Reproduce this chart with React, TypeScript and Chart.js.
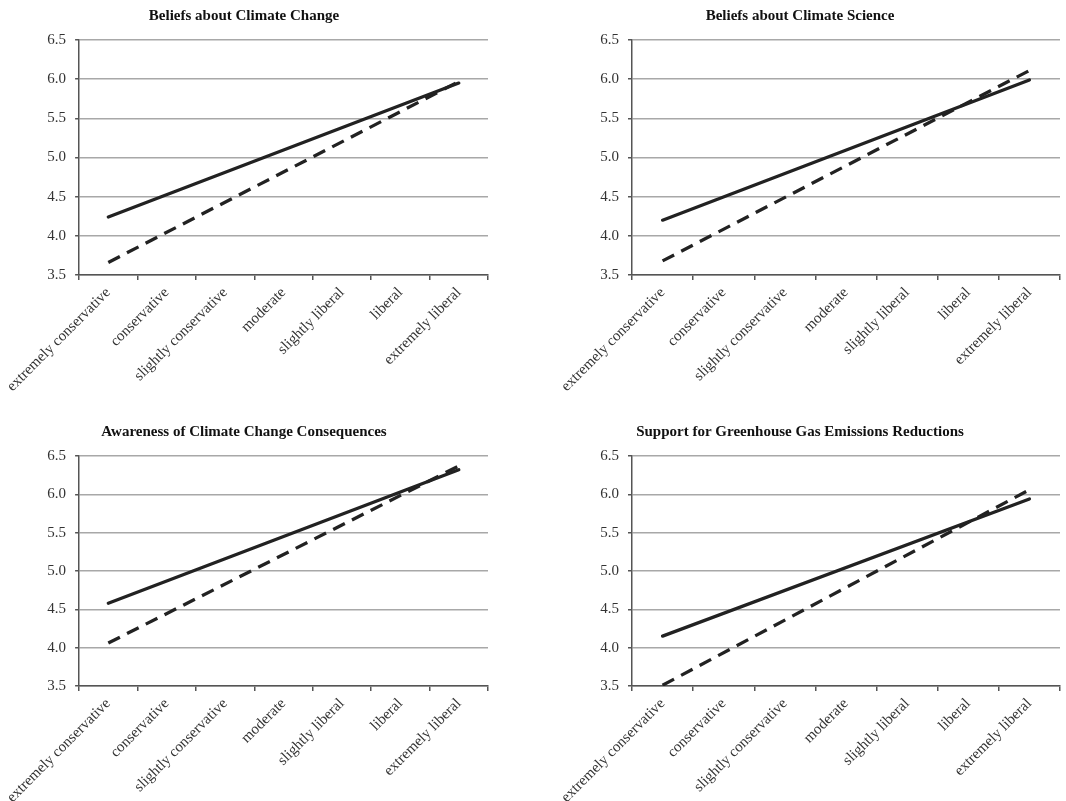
import React, { useEffect, useRef } from "react";
import { Chart, registerables } from "chart.js";

Chart.register(...registerables);

const categories = [
  "extremely conservative",
  "conservative",
  "slightly conservative",
  "moderate",
  "slightly liberal",
  "liberal",
  "extremely liberal",
];

const yTicks = [3.5, 4.0, 4.5, 5.0, 5.5, 6.0, 6.5];

// Regression lines: values read at the two ends of each line (null = not marked)
const changeSolid = [4.24, null, null, null, null, null, 5.95];
const changeDashed = [3.66, null, null, null, null, null, 5.97];
const scienceSolid = [4.2, null, null, null, null, null, 5.99];
const scienceDashed = [3.68, null, null, null, null, null, 6.11];
const awarenessSolid = [4.58, null, null, null, null, null, 6.32];
const awarenessDashed = [4.06, null, null, null, null, null, 6.37];
const supportSolid = [4.15, null, null, null, null, null, 5.94];
const supportDashed = [3.51, null, null, null, null, null, 6.06];

const titles = [
  "Beliefs about Climate Change",
  "Beliefs about Climate Science",
  "Awareness of Climate Change Consequences",
  "Support for Greenhouse Gas Emissions Reductions",
];

const FONT = "'Liberation Serif', 'Times New Roman', serif";
const AXIS = "#555555";
const GRID = "#a8a8a8";
const LINE = "#222222";

type PanelProps = {
  title: string;
  solid: (number | null)[];
  dashed: (number | null)[];
  left: number;
  top: number;
  width: number;
  height: number;
  yWidth: number;
  padRight: number;
  xHeight: number;
};

function Panel(p: PanelProps) {
  const ref = useRef<HTMLCanvasElement | null>(null);
  useEffect(() => {
    if (!ref.current) return;
    const chart = new Chart(ref.current, {
      type: "line",
      data: {
        labels: categories,
        datasets: [
          {
            data: p.solid,
            borderColor: LINE,
            borderWidth: 3.3,
            pointRadius: 0,
            spanGaps: true,
            borderCapStyle: "round",
            fill: false,
          },
          {
            data: p.dashed,
            borderColor: LINE,
            borderWidth: 3.3,
            borderDash: [13, 8],
            pointRadius: 0,
            spanGaps: true,
            fill: false,
          },
        ],
      },
      options: {
        responsive: false,
        animation: false,
        devicePixelRatio: 1,
        layout: { autoPadding: false, padding: { left: 0, right: p.padRight, top: 0, bottom: 0 } },
        plugins: {
          legend: { display: false },
          tooltip: { enabled: false },
          title: {
            display: true,
            text: p.title,
            color: "#111",
            font: { family: FONT, size: 15, weight: "bold", lineHeight: 1.2 },
            padding: { top: 7, bottom: 15 },
          },
        },
        scales: {
          x: {
            type: "category",
            offset: true,
            grid: {
              offset: true,
              drawOnChartArea: false,
              drawTicks: true,
              tickLength: 5,
              color: AXIS,
              lineWidth: 1.5,
            },
            border: { display: true, color: AXIS, width: 1.5 },
            ticks: {
              autoSkip: false,
              minRotation: 45,
              maxRotation: 45,
              padding: 4,
              color: "#333",
              font: { family: FONT, size: 15 },
            },
            afterFit: (s: any) => {
              s.height = p.xHeight;
            },
          },
          y: {
            min: 3.5,
            max: 6.5,
            afterBuildTicks: (s: any) => {
              s.ticks = yTicks.map((v) => ({ value: v }));
            },
            grid: {
              color: GRID,
              lineWidth: 1.5,
              drawTicks: true,
              tickLength: 4,
              tickColor: AXIS,
              tickWidth: 1.5,
            },
            border: { display: true, color: AXIS, width: 1.5 },
            ticks: {
              padding: 9,
              color: "#333",
              font: { family: FONT, size: 15 },
              callback: (v: any) => Number(v).toFixed(1),
            },
            afterFit: (s: any) => {
              s.width = p.yWidth;
            },
          },
        },
      },
    } as any);
    return () => chart.destroy();
  }, []);
  return (
    <canvas
      ref={ref}
      width={p.width}
      height={p.height}
      style={{ position: "absolute", left: p.left, top: p.top, width: p.width, height: p.height }}
    />
  );
}

export default function App() {
  return (
    <div
      style={{
        position: "fixed",
        left: 0,
        top: 0,
        width: 1066,
        height: 801,
        overflow: "hidden",
        background: "#fff",
      }}
    >
      <Panel title={titles[0]} solid={changeSolid} dashed={changeDashed}
        left={0} top={0} width={566} height={400} yWidth={79} padRight={78} xHeight={125} />
      <Panel title={titles[1]} solid={scienceSolid} dashed={scienceDashed}
        left={540} top={0} width={607} height={400} yWidth={92} padRight={87} xHeight={125} />
      <Panel title={titles[2]} solid={awarenessSolid} dashed={awarenessDashed}
        left={0} top={416} width={566} height={385} yWidth={79} padRight={78} xHeight={115} />
      <Panel title={titles[3]} solid={supportSolid} dashed={supportDashed}
        left={540} top={416} width={607} height={385} yWidth={92} padRight={87} xHeight={115} />
    </div>
  );
}
